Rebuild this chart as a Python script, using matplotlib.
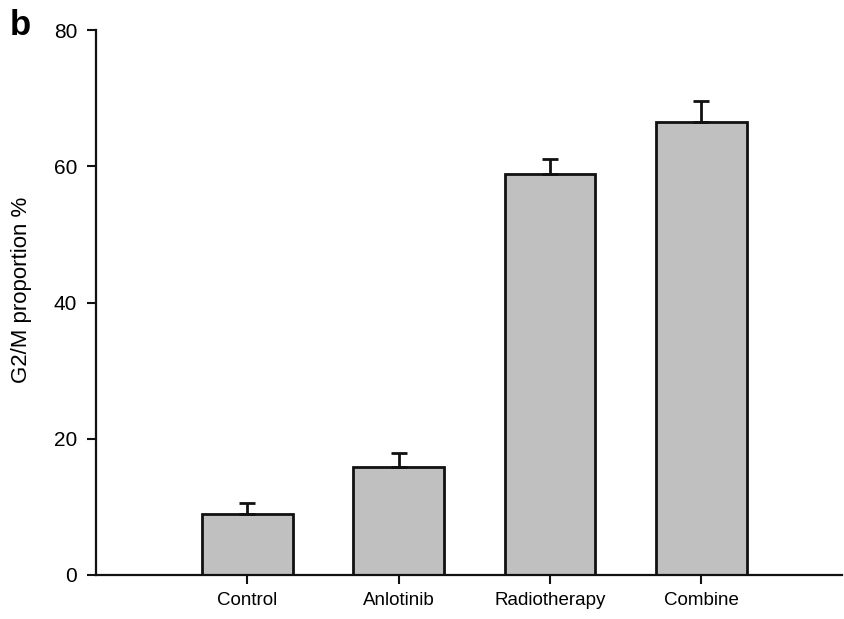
import matplotlib
matplotlib.use("Agg")
import matplotlib.pyplot as plt

categories = ["Control", "Anlotinib", "Radiotherapy", "Combine"]
values = [9.0, 15.8, 58.9, 66.5]
errors = [1.6, 2.1, 2.2, 3.1]
yticks = [0, 20, 40, 60, 80]

plt.rcParams['font.family'] = ['Liberation Sans', 'DejaVu Sans']

fig = plt.figure(figsize=(8.44, 6.19), dpi=100)
ax = fig.add_axes([0.1137, 0.0711, 0.8839, 0.8804])

x = list(range(len(categories)))
ax.bar(x, values, width=0.6, color="#c0c0c0", edgecolor="#111111", linewidth=2.0, zorder=2)
ax.errorbar(x, values, yerr=[[0]*len(values), errors], fmt="none", ecolor="#111111",
            elinewidth=2.0, capsize=6, capthick=2.0, zorder=3)

ax.set_xlim(-1.0, 3.93)
ax.set_ylim(0, 80)
ax.set_yticks(yticks)
ax.set_xticks(x)
ax.set_xticklabels(categories)
ax.tick_params(axis="both", direction="out", length=6.5, width=1.5, pad=7, color="#111111")
ax.tick_params(axis="y", labelsize=15)
ax.tick_params(axis="x", labelsize=13.5, pad=6)
for side in ["top", "right"]:
    ax.spines[side].set_visible(False)
for side in ["left", "bottom"]:
    ax.spines[side].set_linewidth(1.6)
    ax.spines[side].set_color("#111111")
ax.set_ylabel("G2/M proportion %", fontsize=16)
ax.yaxis.set_label_coords(-0.0858, 0.524)
fig.text(0.012, 0.943, "b", fontsize=25, fontweight="bold")

fig.savefig("out.png", dpi=100)
